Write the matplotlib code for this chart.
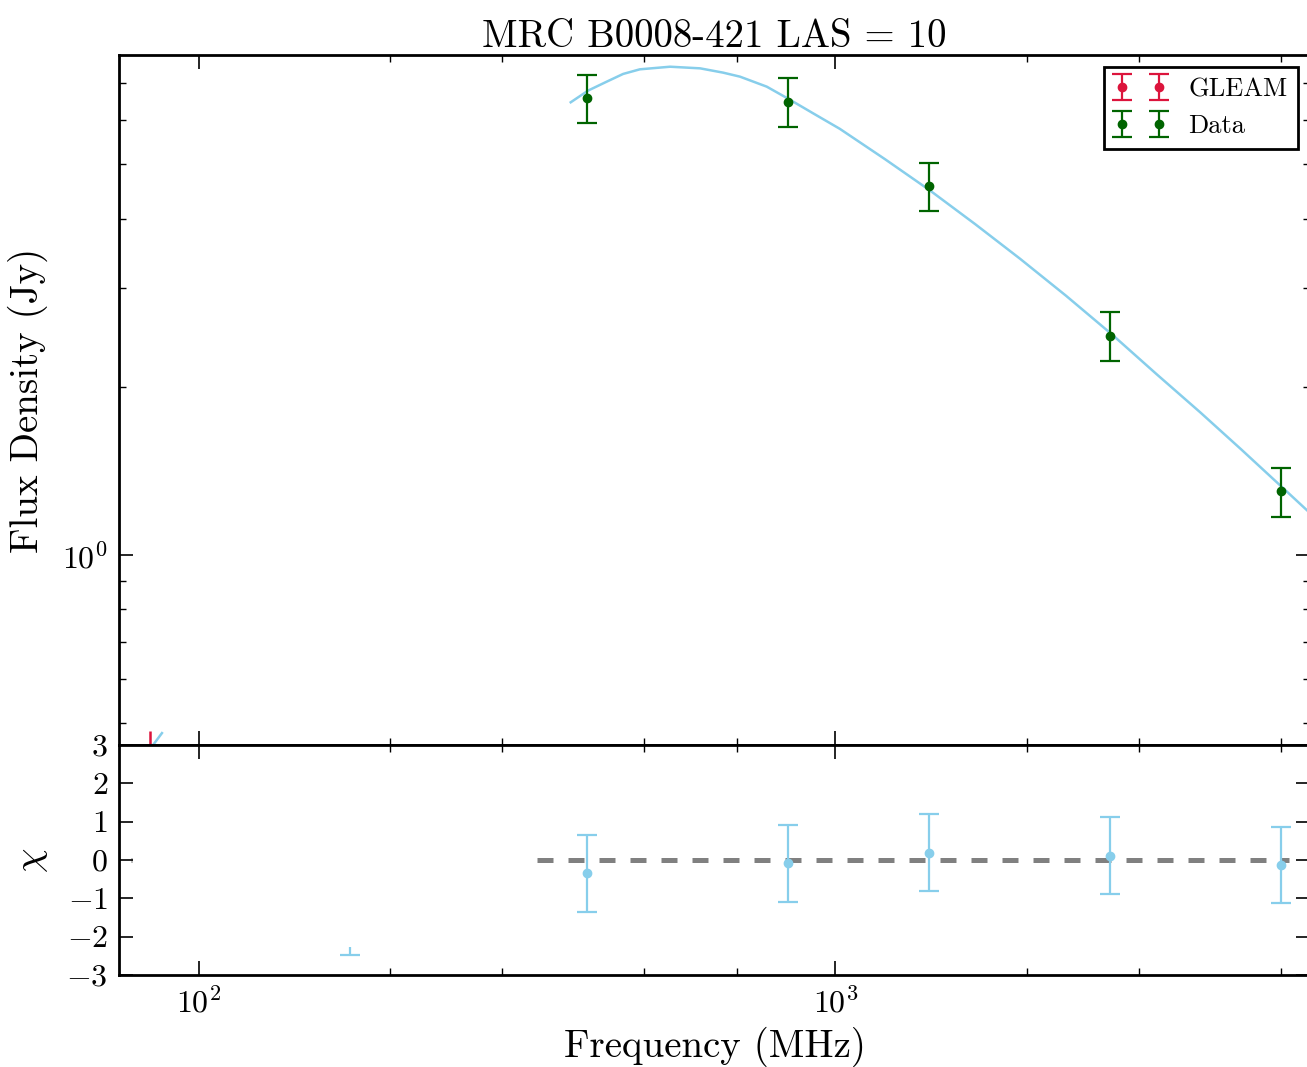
import matplotlib
matplotlib.use("Agg")
import numpy as np
import matplotlib.pyplot as plt
from matplotlib.ticker import FixedLocator, NullFormatter, LogLocator

plt.rcParams["font.family"] = "serif"
plt.rcParams["font.serif"] = ["cmr10"]
plt.rcParams["mathtext.fontset"] = "cm"
plt.rcParams["axes.formatter.use_mathtext"] = True

# ---- data ---------------------------------------------------------------
data_freq = [408, 843, 1400, 2700, 5000]
data_flux = [6.57, 6.48, 4.58, 2.47, 1.30]
data_err = [0.65, 0.65, 0.46, 0.25, 0.13]

gleam_freq = [84, 173]
gleam_flux = [0.44, 0.30]
gleam_err = [0.044, 0.03]

# fitted model
model_freq = [384, 409, 437, 464, 493, 550, 613, 666, 708, 780, 846, 923,
              1016, 1196, 1408, 1657, 1949, 2302, 2719, 3188, 3739, 4336,
              5035, 5510]
model_flux = [6.46, 6.78, 7.03, 7.26, 7.40, 7.48, 7.43, 7.30, 7.18, 6.89,
              6.54, 6.17, 5.79, 5.11, 4.49, 3.91, 3.39, 2.91, 2.48, 2.11,
              1.80, 1.545, 1.32, 1.20]
model_lo_freq = [83.0, 87.6]
model_lo_flux = [0.442, 0.480]

chi_freq = [408, 843, 1400, 2700, 5000]
chi_val = [-0.35, -0.09, 0.19, 0.11, -0.13]
chi_err = [1, 1, 1, 1, 1]

# clipped GLEAM residual: only its lower end shows
chi_clip_freq = [173]
chi_clip_top = [-2.27]
chi_clip_low = [-2.48]

zero_lo = [70, 78.6]
zero_hi = [340, 5150]

xlim = (75, 5560)
ylim = (0.457, 7.85)

# ---- plot ---------------------------------------------------------------
W, H = 1307, 1067
fig = plt.figure(figsize=(W / 100, H / 100), dpi=100)
ax = fig.add_axes([119 / W, 1 - 745 / H, (1310 - 119) / W, 690 / H])
axc = fig.add_axes([119 / W, 1 - 975 / H, (1310 - 119) / W, 230 / H], sharex=ax)

red, green, blue = "#DC143C", "#006400", "#87CEEB"
eb = dict(fmt="o", markersize=6, capsize=7, elinewidth=1.6, capthick=1.6)

ax.errorbar(gleam_freq, gleam_flux, yerr=gleam_err, color=red, fmt="o",
            markersize=6, capsize=0, elinewidth=1.8)
ax.errorbar(data_freq, data_flux, yerr=data_err, color=green, **eb)
ax.plot(model_freq, model_flux, color=blue, lw=1.8, zorder=1)
ax.plot(model_lo_freq, model_lo_flux, color=blue, lw=1.8, zorder=1)

# legend proxies
hg = ax.errorbar([np.nan], [np.nan], yerr=[np.nan], color=red, label="GLEAM", **eb)
hd = ax.errorbar([np.nan], [np.nan], yerr=[np.nan], color=green, label="Data", **eb)

ax.set_xscale("log")
ax.set_yscale("log")
ax.set_xlim(*xlim)
ax.set_ylim(*ylim)
ax.set_ylabel("Flux Density (Jy)", fontsize=28, labelpad=10)
ax.set_title("MRC B0008-421 LAS = 10", fontsize=28, pad=6)
ax.yaxis.set_minor_locator(LogLocator(base=10, subs=range(2, 10)))
ax.yaxis.set_minor_formatter(NullFormatter())
plt.setp(ax.get_xticklabels(), visible=False)

leg = ax.legend(handles=[hg, hd], loc="upper right", numpoints=2, fontsize=19,
                fancybox=False, framealpha=1, edgecolor="black",
                handlelength=2.0, borderaxespad=0.45)
leg.get_frame().set_linewidth(2)

dash = (0, (3.2, 3))
axc.plot(zero_lo, [0, 0], color="grey", lw=3.6, linestyle=dash, zorder=1)
axc.plot(zero_hi, [0, 0], color="grey", lw=3.6, linestyle=dash, zorder=1)
axc.errorbar(chi_freq, chi_val, yerr=chi_err, color=blue, **eb)
axc.vlines(chi_clip_freq, chi_clip_low, chi_clip_top, color=blue, lw=1.6)
axc.plot(chi_clip_freq, chi_clip_low, marker="_", markersize=14,
         markeredgewidth=1.6, color=blue, linestyle="none")
axc.set_ylim(-3, 3)
axc.set_yticks([-3, -2, -1, 0, 1, 2, 3])
axc.set_ylabel(r"$\chi$", fontsize=28, labelpad=12)
axc.set_xlabel("Frequency (MHz)", fontsize=28, labelpad=6)
axc.xaxis.set_major_locator(FixedLocator([100, 1000]))
axc.xaxis.set_minor_locator(FixedLocator([200, 300, 500, 700, 2000, 3000, 5000]))
axc.xaxis.set_minor_formatter(NullFormatter())

for a in (ax, axc):
    for s in a.spines.values():
        s.set_linewidth(2)
    a.tick_params(which="both", direction="in", top=True, right=True,
                  labelsize=23)
    a.tick_params(which="major", length=10, width=1.2)
    a.tick_params(which="minor", length=5, width=1.0)
    a.tick_params(axis="x", pad=8)
    a.tick_params(axis="y", pad=8)

fig.savefig("out.png", dpi=100)
